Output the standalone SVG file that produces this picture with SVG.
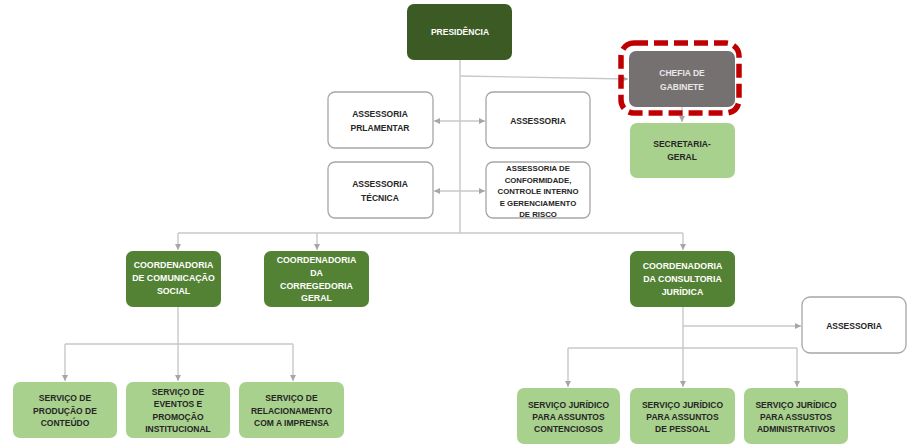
<svg xmlns="http://www.w3.org/2000/svg" width="910" height="446" viewBox="0 0 910 446">
<defs>
<marker id="arr" markerUnits="userSpaceOnUse" markerWidth="8" markerHeight="8" refX="6" refY="4" orient="auto-start-reverse">
<path d="M0,1 L6,4 L0,7 Z" fill="#a6a6a6"/>
</marker>
</defs>
<style>
.c{fill:none;stroke:#c8c8c8;stroke-width:1.4}
.a{marker-end:url(#arr)}
.b{marker-start:url(#arr);marker-end:url(#arr)}
.w{fill:#ffffff;stroke:#a6a6a6;stroke-width:1.3}
.dg{fill:#3b5a24}
.mg{fill:#548235}
.lg{fill:#a9d18e}
.gr{fill:#767171}
text{font-family:"Liberation Sans",Arial,sans-serif;font-weight:bold;font-size:8.5px;text-anchor:middle;dominant-baseline:central}
.tw{fill:#ffffff}
.td{fill:#262626}
.tg{fill:#e8e8e8}
.s8{font-size:8.8px}
.s7{font-size:7.8px}
</style>
<rect width="910" height="446" fill="#ffffff"/>
<g id="connectors">
<path class="c" d="M460,60 V233"/>
<path class="c a" d="M460,76 L628,79"/>
<path class="c a" d="M682,107 V122"/>
<path class="c b" d="M434,121 H485"/>
<path class="c b" d="M434,191 H485"/>
<path class="c" d="M178,233 H683"/>
<path class="c a" d="M178,233 V250"/>
<path class="c a" d="M317,233 V250"/>
<path class="c a" d="M683,233 V250"/>
<path class="c" d="M178,307 V344 M65,344 H293"/>
<path class="c a" d="M65,344 V381"/>
<path class="c a" d="M178,344 V381"/>
<path class="c a" d="M293,344 V381"/>
<path class="c a" d="M683,307 V387"/>
<path class="c a" d="M683,326 H801"/>
<path class="c" d="M568,348 H797"/>
<path class="c a" d="M568,348 V387"/>
<path class="c a" d="M797,348 V387"/>
</g>
<g id="presidencia">
<rect class="dg" x="407" y="4" width="105" height="56" rx="7"/>
<text class="tw" x="460" y="32">PRESIDÊNCIA</text>
</g>
<g id="chefia">
<rect x="621" y="43" width="118" height="70" rx="13" fill="none" stroke="#c00000" stroke-width="5.5" stroke-dasharray="14,6"/>
<rect class="gr" x="629" y="51" width="106" height="56" rx="7"/>
<text class="tg" x="682" y="73">CHEFIA DE</text>
<text class="tg" x="682" y="87">GABINETE</text>
</g>
<g id="secretaria">
<rect class="lg" x="630" y="123" width="105" height="55" rx="7"/>
<text class="td" x="682" y="144">SECRETARIA-</text>
<text class="td" x="682" y="157">GERAL</text>
</g>
<g id="ass-parlamentar">
<rect class="w" x="328" y="92" width="105" height="56" rx="7"/>
<text class="td" x="380" y="114">ASSESSORIA</text>
<text class="td" x="380" y="128">PRLAMENTAR</text>
</g>
<g id="assessoria1">
<rect class="w" x="486" y="92" width="104" height="56" rx="7"/>
<text class="td" x="538" y="121">ASSESSORIA</text>
</g>
<g id="ass-tecnica">
<rect class="w" x="328" y="162" width="105" height="56" rx="7"/>
<text class="td" x="380" y="184">ASSESSORIA</text>
<text class="td" x="380" y="198">TÉCNICA</text>
</g>
<g id="ass-conformidade">
<rect class="w" x="486" y="162" width="104" height="56" rx="7"/>
<text class="td s7" x="538" y="168">ASSESSORIA DE</text>
<text class="td s7" x="538" y="180">CONFORMIDADE,</text>
<text class="td s7" x="538" y="191.5">CONTROLE INTERNO</text>
<text class="td s7" x="538" y="203">E GERENCIAMENTO</text>
<text class="td s7" x="538" y="214.5">DE RISCO</text>
</g>
<g id="coord-comunicacao">
<rect class="mg" x="126" y="251" width="95" height="56" rx="7"/>
<text class="tw s8" x="173.5" y="265">COORDENADORIA</text>
<text class="tw s8" x="173.5" y="278">DE COMUNICAÇÃO</text>
<text class="tw s8" x="173.5" y="291">SOCIAL</text>
</g>
<g id="coord-corregedoria">
<rect class="mg" x="264" y="251" width="105" height="56" rx="7"/>
<text class="tw s8" x="316.5" y="260">COORDENADORIA</text>
<text class="tw s8" x="316.5" y="273">DA</text>
<text class="tw s8" x="316.5" y="285.5">CORREGEDORIA</text>
<text class="tw s8" x="316.5" y="298">GERAL</text>
</g>
<g id="coord-consultoria">
<rect class="mg" x="630" y="251" width="105" height="56" rx="7"/>
<text class="tw s8" x="682.5" y="266">COORDENADORIA</text>
<text class="tw s8" x="682.5" y="279">DA CONSULTORIA</text>
<text class="tw s8" x="682.5" y="292">JURÍDICA</text>
</g>
<g id="assessoria2">
<rect class="w" x="802" y="297" width="104" height="56" rx="8"/>
<text class="td" x="854" y="326">ASSESSORIA</text>
</g>
<g id="serv-producao">
<rect class="lg" x="13" y="382" width="104" height="56" rx="7"/>
<text class="td" x="65" y="398">SERVIÇO DE</text>
<text class="td" x="65" y="410.5">PRODUÇÃO DE</text>
<text class="td" x="65" y="423">CONTEÚDO</text>
</g>
<g id="serv-eventos">
<rect class="lg" x="126" y="382" width="104" height="56" rx="7"/>
<text class="td" x="178" y="392">SERVIÇO DE</text>
<text class="td" x="178" y="404">EVENTOS E</text>
<text class="td" x="178" y="416.5">PROMOÇÃO</text>
<text class="td" x="178" y="429">INSTITUCIONAL</text>
</g>
<g id="serv-imprensa">
<rect class="lg" x="239" y="382" width="105" height="56" rx="7"/>
<text class="td" x="291.5" y="398">SERVIÇO DE</text>
<text class="td" x="291.5" y="410.5">RELACIONAMENTO</text>
<text class="td" x="291.5" y="423">COM A IMPRENSA</text>
</g>
<g id="serv-contenciosos">
<rect class="lg" x="517" y="388" width="103" height="56" rx="7"/>
<text class="td" x="568.5" y="405">SERVIÇO JURÍDICO</text>
<text class="td" x="568.5" y="417">PARA ASSUNTOS</text>
<text class="td" x="568.5" y="429">CONTENCIOSOS</text>
</g>
<g id="serv-pessoal">
<rect class="lg" x="630" y="388" width="105" height="56" rx="7"/>
<text class="td" x="682.5" y="405">SERVIÇO JURÍDICO</text>
<text class="td" x="682.5" y="417">PARA ASSUNTOS</text>
<text class="td" x="682.5" y="429">DE PESSOAL</text>
</g>
<g id="serv-administrativos">
<rect class="lg" x="744" y="388" width="104" height="56" rx="7"/>
<text class="td" x="796" y="405">SERVIÇO JURÍDICO</text>
<text class="td" x="796" y="417">PARA ASSUSTOS</text>
<text class="td" x="796" y="429">ADMINISTRATIVOS</text>
</g>
</svg>
